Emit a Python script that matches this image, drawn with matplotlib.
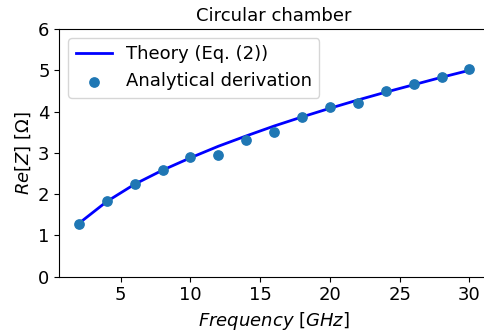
import numpy as np
import matplotlib.pyplot as plt

freq = [2, 4, 6, 8, 10, 12, 14, 16, 18, 20, 22, 24, 26, 28, 30]
theory = [1.29, 1.82, 2.24, 2.58, 2.88, 3.16, 3.41, 3.65, 3.87, 4.08, 4.28, 4.47, 4.65, 4.83, 5.0]
analytical = [1.28, 1.84, 2.25, 2.59, 2.9, 2.95, 3.3, 3.5, 3.87, 4.1, 4.2, 4.5, 4.67, 4.84, 5.02]

fig = plt.figure(figsize=(4.84, 3.32), dpi=100)
ax = fig.add_axes([59.3 / 484, (332 - 276.7) / 332, (489 - 59.3) / 484, (276.7 - 29) / 332])

ax.plot(freq, theory, color='blue', lw=2, label='Theory (Eq. (2))')
ax.scatter(freq, analytical, color='#1f77b4', s=45, zorder=3, label='Analytical derivation')

ax.set_ylim(0, 6)
ax.set_xlim(0.6, 31.4)
ax.set_xticks([5, 10, 15, 20, 25, 30])
ax.tick_params(labelsize=13)
ax.spines['right'].set_visible(False)
ax.set_title('Circular chamber', fontsize=13)
ax.set_xlabel(r'$Frequency$ $[GHz]$', fontsize=13)
ax.set_ylabel(r'$Re[Z]$ [$\Omega$]', fontsize=13)
ax.legend(loc='upper left', fontsize=13)

plt.savefig('out.png', dpi=100)
